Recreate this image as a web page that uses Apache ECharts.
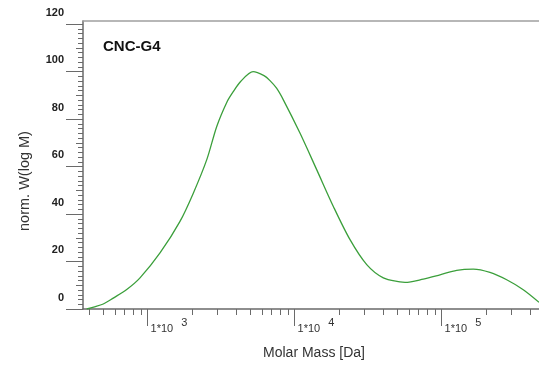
<!DOCTYPE html>
<html>
<head>
<meta charset="utf-8">
<script src="https://cdn.jsdelivr.net/npm/echarts@6/dist/echarts.min.js"></script>
<style>
html,body{margin:0;padding:0;background:#fff;}
#chart{width:539px;height:366px;}
</style>
</head>
<body>
<div id="chart"></div>
<script>
// Molar mass (Da) sampled along the curve
var molarMass = [386, 430, 500, 585, 722, 889, 1216, 1663, 2049, 2530, 2958, 3459, 3800, 4300, 5224, 6200, 6810, 7550, 8395, 10890, 14150, 18370, 23860, 30990, 40190, 52220, 56490, 75190, 97640, 126800, 164500, 213600, 277600, 359900, 460600];
// norm. W(log M)
var normW = [0, 0.8, 2.1, 4.6, 8.2, 13.1, 23.6, 36.9, 48.8, 62.9, 76.9, 87.0, 91.2, 95.8, 100.0, 98.3, 96.2, 93.0, 88.1, 74.1, 58.7, 43.2, 29.2, 18.7, 13.1, 11.4, 11.2, 12.6, 14.4, 16.3, 16.8, 15.4, 12.3, 8.1, 2.8];
// axis ticks
var yMajorTicks = [0, 20, 40, 60, 80, 100, 120];
var yMidTicks = [10, 30, 50, 70, 90, 110];
var yMinorTicks = [2,4,6,8,12,14,16,18,22,24,26,28,32,34,36,38,42,44,46,48,52,54,56,58,62,64,66,68,72,74,76,78,82,84,86,88,92,94,96,98,102,104,106,108,112,114,116,118];
var xDecadeTicks = [1000, 10000, 100000];
var xMinorTicks = [400,500,600,700,800,900,2000,3000,4000,5000,6000,7000,8000,9000,20000,30000,40000,50000,60000,70000,80000,90000,200000,300000,400000];
var titleText = 'CNC-G4';
var xTitle = 'Molar Mass [Da]';
var yTitle = 'norm. W(log M)';

var xMin = 364, xMax = 460500, yMin = 0, yMax = 121.3;
var axisColor = '#6a6a6a';
var points = molarMass.map(function (m, i) { return [m, normW[i]]; });

var chart = echarts.init(document.getElementById('chart'), null, {renderer: 'canvas'});
var gridBox = {left: 83, top: 21, right: 0, bottom: 57, containLabel: false};
function baseX(g, extra) {
  return Object.assign({
    type: 'log', logBase: 10, min: xMin, max: xMax, gridIndex: g, position: 'bottom',
    splitLine: {show: false}, axisLabel: {show: false}, axisTick: {show: false},
    axisLine: {show: false}
  }, extra);
}
function baseY(g, extra) {
  return Object.assign({
    type: 'value', min: yMin, max: yMax, gridIndex: g, position: 'left',
    splitLine: {show: false}, axisLabel: {show: false}, axisTick: {show: false},
    axisLine: {show: false}
  }, extra);
}
chart.setOption({
  animation: false,
  backgroundColor: '#fff',
  textStyle: {fontFamily: 'Liberation Sans, Arial, sans-serif'},
  grid: [Object.assign({}, gridBox), Object.assign({}, gridBox), Object.assign({}, gridBox)],
  title: {
    text: titleText, left: 103, top: 39, padding: 0,
    textStyle: {fontFamily: 'Liberation Sans, Arial, sans-serif', fontSize: 15, fontWeight: 'bold', color: '#111'}
  },
  graphic: [{
    type: 'text', x: 25, y: 181, rotation: Math.PI / 2,
    style: {text: yTitle, fill: '#333', font: '14.5px "Liberation Sans", Arial, sans-serif', align: 'center', verticalAlign: 'middle'}
  }],
  xAxis: [
    baseX(0, {
      axisLine: {show: true, onZero: false, lineStyle: {color: axisColor, width: 1.5}},
      axisTick: {show: true, length: 17, customValues: xDecadeTicks, lineStyle: {color: axisColor, width: 1}},
      axisLabel: {
        show: true, customValues: xDecadeTicks, align: 'left', margin: 6,
        formatter: function (v) { return '{b|1*10}{s|' + Math.round(Math.log10(v)) + '}'; },
        rich: {
          b: {fontSize: 11, color: '#333', padding: [8, 0, 0, 3]},
          s: {fontSize: 11, color: '#333', padding: [0, 0, 4, 8]}
        }
      },
      name: xTitle, nameLocation: 'middle', nameGap: 37,
      nameTextStyle: {fontSize: 14, color: '#333', padding: [0, 0, 0, 6]}
    }),
    {
      type: 'value', position: 'top', gridIndex: 1, min: 0, max: 1,
      axisLine: {show: true, onZero: false, lineStyle: {color: '#a0a0a0', width: 1.5}},
      axisTick: {show: false}, axisLabel: {show: false}, splitLine: {show: false}
    },
    baseX(2, {
      axisTick: {show: true, length: 6, customValues: xMinorTicks, lineStyle: {color: axisColor, width: 1}}
    })
  ],
  yAxis: [
    baseY(0, {
      axisLine: {show: true, onZero: false, lineStyle: {color: axisColor, width: 1.5}},
      axisTick: {show: true, length: 17, customValues: yMajorTicks, lineStyle: {color: axisColor, width: 1}},
      axisLabel: {
        show: true, customValues: yMajorTicks, margin: 19, fontSize: 11, fontWeight: 'bold', color: '#222',
        lineHeight: 23, verticalAlign: 'middle',
        formatter: function (v) { return v + '\n '; }
      }
    }),
    baseY(1, {
      axisTick: {show: true, length: 7, customValues: yMidTicks, lineStyle: {color: axisColor, width: 1}}
    }),
    baseY(2, {
      axisTick: {show: true, length: 5, customValues: yMinorTicks, lineStyle: {color: axisColor, width: 1}}
    })
  ],
  series: [{
    type: 'line', xAxisIndex: 0, yAxisIndex: 0,
    data: points, smooth: 0.3, showSymbol: false, symbol: 'none',
    lineStyle: {color: '#3b9f3b', width: 1.3}
  }]
});
</script>
</body>
</html>
